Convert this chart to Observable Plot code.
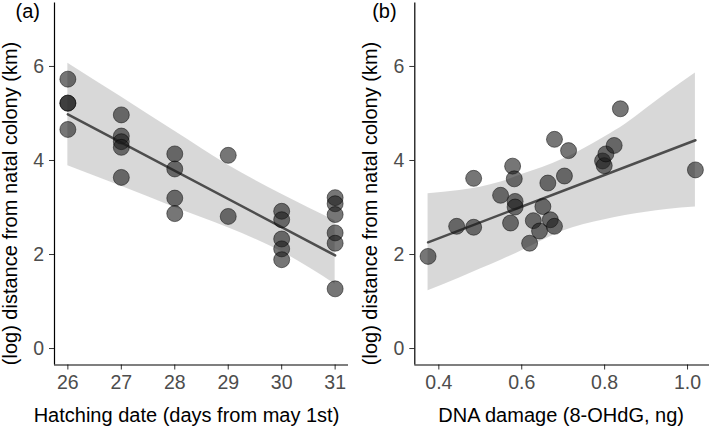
<!DOCTYPE html>
<html>
<head>
<meta charset="utf-8">
<script src="https://cdn.jsdelivr.net/npm/d3@7"></script>
<script src="https://cdn.jsdelivr.net/npm/@observablehq/plot@0.6"></script>
<style>
  body { margin: 0; background: #fff; }
  #fig { position: relative; width: 709px; height: 426px; overflow: hidden; background: #fff; }
  #fig svg { position: absolute; top: 0; }
</style>
</head>
<body>
<div id="fig"></div>
<script>
// (a) hatching date vs. log distance from natal colony
const hatchDay  = [26, 26, 26, 26, 27, 27, 27, 27, 27, 28, 28, 28, 28, 29, 29, 30, 30, 30, 30, 30, 31, 31, 31, 31, 31, 31];
const hatchDist = [5.73, 5.22, 5.22, 4.66, 4.97, 4.52, 4.40, 4.28, 3.64, 4.14, 3.82, 3.20, 2.87, 4.11, 2.81, 2.92, 2.74, 2.33, 2.12, 1.89, 3.21, 3.08, 2.85, 2.46, 2.24, 1.27];
const hatchFitX = [26, 31];
const hatchFitY = [4.98, 1.98];
const hatchBandX  = [26, 27, 28, 29, 30, 31];
const hatchBandLo = [3.89, 3.45, 3.00, 2.57, 2.06, 1.37];
const hatchBandHi = [6.07, 5.35, 4.62, 3.90, 3.28, 2.72];
const hatchTicks = [26, 27, 28, 29, 30, 31];

// (b) DNA damage vs. log distance from natal colony
const dnaDamage = [0.374, 0.443, 0.484, 0.484, 0.549, 0.578, 0.582, 0.584, 0.584, 0.573, 0.619, 0.628, 0.643, 0.651, 0.669, 0.679, 0.663, 0.679, 0.703, 0.713, 0.795, 0.799, 0.803, 0.823, 0.838, 1.019];
const dnaDist   = [1.96, 2.60, 2.58, 3.62, 3.26, 3.88, 3.61, 3.13, 3.01, 2.67, 2.24, 2.72, 2.50, 3.02, 2.74, 2.60, 3.52, 4.45, 3.67, 4.21, 3.99, 3.89, 4.14, 4.32, 5.10, 3.80];
const dnaFitX = [0.374, 1.019];
const dnaFitY = [2.26, 4.43];
const dnaBandX  = [0.374, 0.45, 0.50, 0.55, 0.60, 0.65, 0.70, 0.75, 0.80, 0.85, 0.90, 0.95, 1.019];
const dnaBandLo = [1.23, 1.50, 1.69, 1.88, 2.08, 2.30, 2.50, 2.64, 2.74, 2.83, 2.90, 2.96, 3.01];
const dnaBandHi = [3.29, 3.36, 3.43, 3.54, 3.70, 3.85, 4.03, 4.25, 4.50, 4.77, 5.10, 5.43, 5.86];
const dnaTicks = [0.4, 0.6, 0.8, 1.0];

const yTicks = [0, 2, 4, 6];
const yTitle = "(log) distance from natal colony (km)";

const FONT = "'Liberation Sans', Arial, Helvetica, sans-serif";
const Y_DOMAIN = [-0.35, 7.35];

function panel(o) {
  const pts = o.xs.map((x, i) => ({x, y: o.ys[i]}));
  const fit = o.fitX.map((x, i) => ({x, y: o.fitY[i]}));
  const band = o.bandX.map((x, i) => ({x, lo: o.bandLo[i], hi: o.bandHi[i]}));
  return Plot.plot({
    width: o.width,
    height: 426,
    marginLeft: o.marginLeft,
    marginRight: o.marginRight,
    marginTop: 2.5,
    marginBottom: 61.5,
    x: {domain: o.xDomain},
    y: {domain: Y_DOMAIN},
    style: {fontFamily: FONT, fontSize: "19.5px", background: "white", color: "black"},
    marks: [
      Plot.areaY(band, {x: "x", y1: "lo", y2: "hi", fill: "#999999", fillOpacity: 0.38, curve: "monotone-x"}),
      Plot.line(fit, {x: "x", y: "y", stroke: "#4d4d4d", strokeWidth: 2.5}),
      Plot.dot(pts, {x: "x", y: "y", r: 8, fill: "#1a1a1a", fillOpacity: 0.6, stroke: "#000", strokeOpacity: 0.6, strokeWidth: 0.8}),
      Plot.axisX({ticks: o.xTicks, tickFormat: o.xFormat, tickSize: 5, tickPadding: 5.5, stroke: "#333", fill: "#4d4d4d", fontSize: 19.5, label: null}),
      Plot.axisY({ticks: yTicks, tickFormat: d3.format("d"), tickSize: 5, tickPadding: 5.5, stroke: "#333", fill: "#4d4d4d", fontSize: 19.5, label: null}),
      Plot.ruleX([o.xDomain[0]], {stroke: "black", strokeWidth: 1.2}),
      Plot.ruleY([Y_DOMAIN[0]], {stroke: "black", strokeWidth: 1.2}),
      Plot.text([o.xTitle], {text: d => d, frameAnchor: "bottom", dx: o.titleDx, dy: 56.5, textAnchor: "middle", lineAnchor: "bottom", fontSize: 20, fill: "black"}),
      Plot.text([yTitle], {text: d => d, frameAnchor: "left", rotate: -90, dx: -38, dy: 19.5, textAnchor: "middle", lineAnchor: "bottom", fontSize: 20, fill: "black"}),
      Plot.text([o.tag], {text: d => d, frameAnchor: "top-left", dx: o.tagDx, dy: 15.3, textAnchor: "start", lineAnchor: "bottom", fontSize: 20, fill: "black"})
    ]
  });
}

const left = panel({
  xs: hatchDay, ys: hatchDist,
  fitX: hatchFitX, fitY: hatchFitY,
  bandX: hatchBandX, bandLo: hatchBandLo, bandHi: hatchBandHi,
  xDomain: [25.75, 31.25], xTicks: hatchTicks, xFormat: d3.format("d"),
  width: 355, marginLeft: 54, marginRight: 7,
  xTitle: "Hatching date (days from may 1st)", titleDx: -15,
  tag: "(a)", tagDx: -39
});

const right = panel({
  xs: dnaDamage, ys: dnaDist,
  fitX: dnaFitX, fitY: dnaFitY,
  bandX: dnaBandX, bandLo: dnaBandLo, bandHi: dnaBandHi,
  xDomain: [0.342, 1.053], xTicks: dnaTicks, xFormat: d3.format(".1f"),
  width: 354, marginLeft: 59.3, marginRight: 0,
  xTitle: "DNA damage (8-OHdG, ng)", titleDx: -1,
  tag: "(b)", tagDx: -42.6
});

const fig = document.getElementById("fig");
left.style.left = "0px";
right.style.left = "355px";
fig.appendChild(left);
fig.appendChild(right);
</script>
</body>
</html>
